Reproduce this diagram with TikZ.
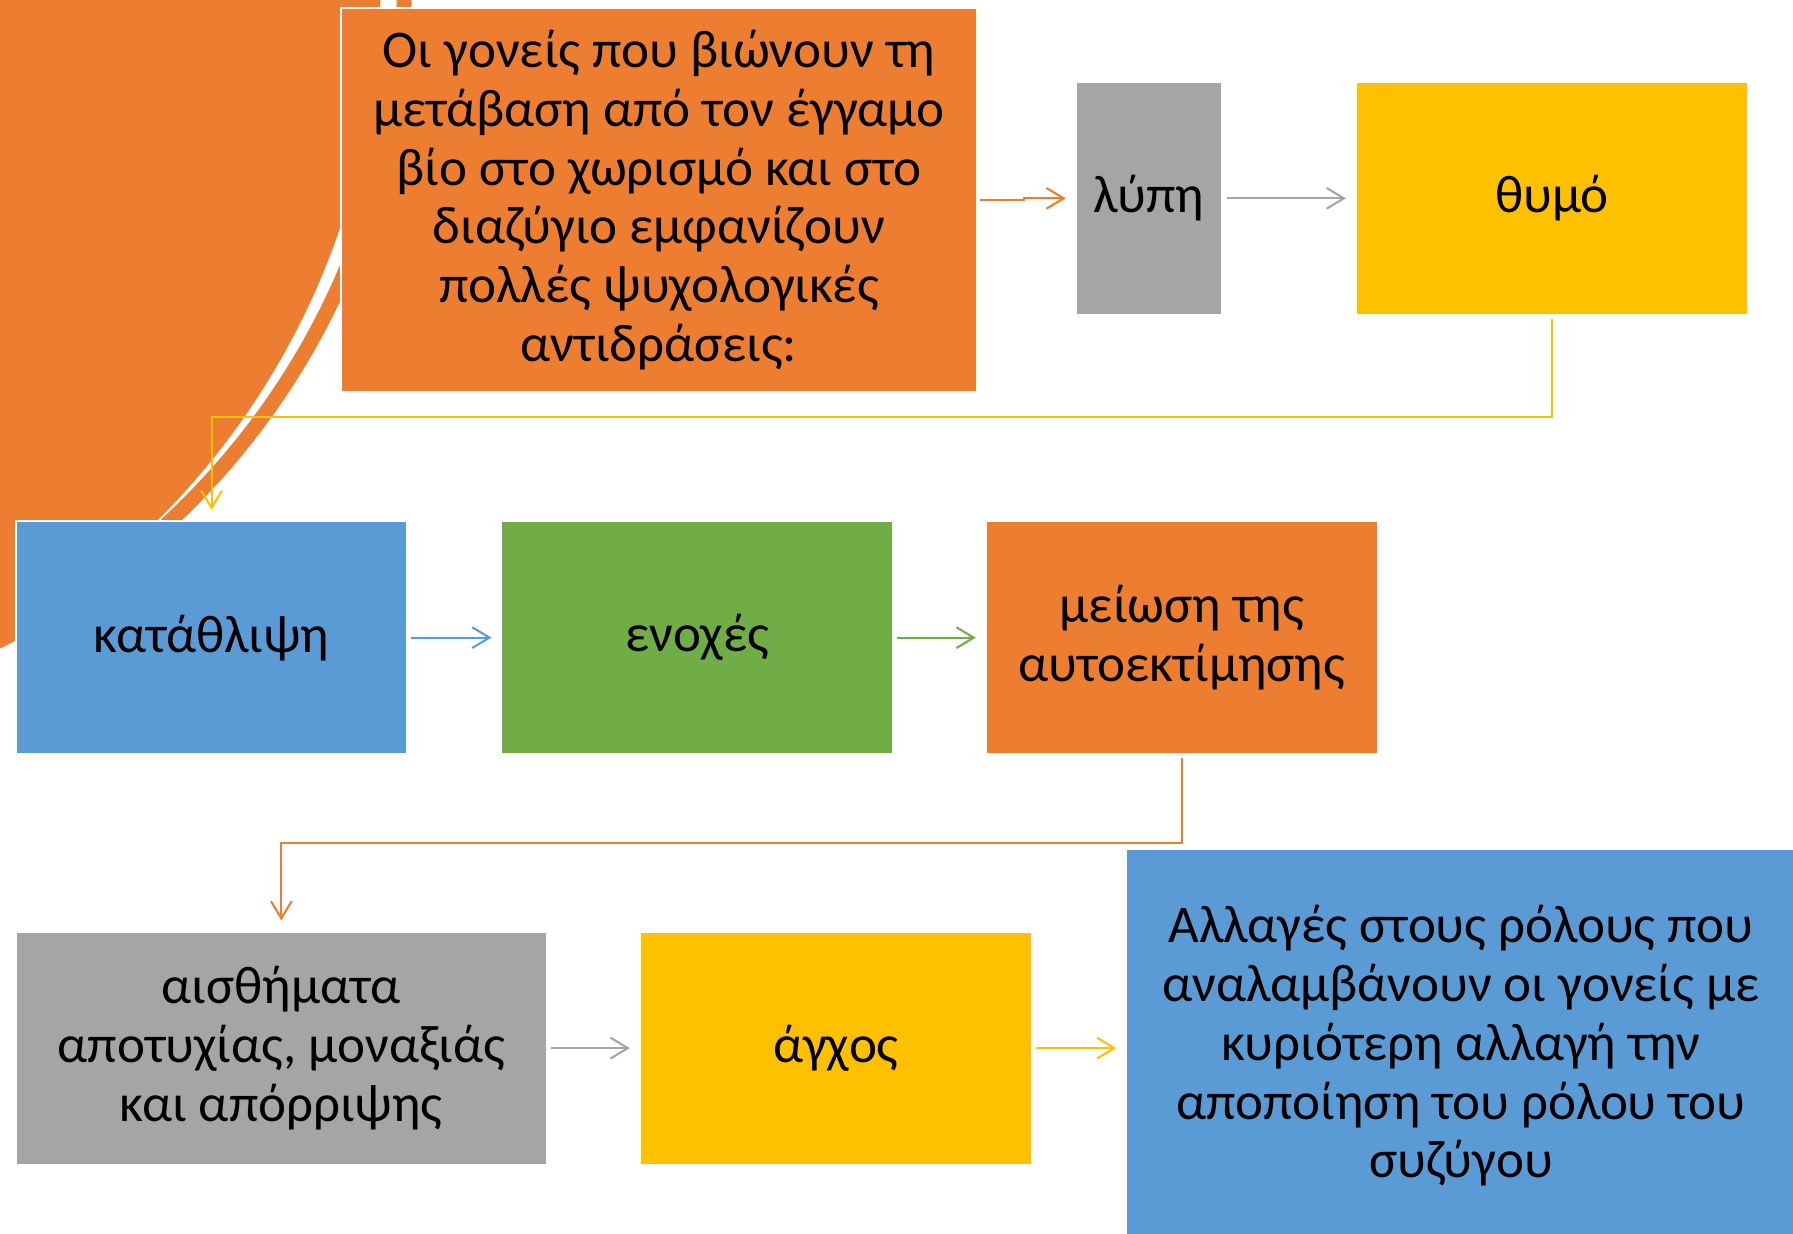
\documentclass[tikz,border=0pt]{standalone}
\usepackage{fontspec}
\setmainfont{Carlito}
\usetikzlibrary{arrows.meta}
\definecolor{corange}{HTML}{ED7D31}
\definecolor{cgray}{HTML}{A5A5A5}
\definecolor{cgold}{HTML}{FFC000}
\definecolor{cblue}{HTML}{5B9BD5}
\definecolor{cgreen}{HTML}{70AD47}
\begin{document}
\begin{tikzpicture}[x=1pt,y=-1pt,
  box/.style={draw=white, line width=1.5pt, inner sep=0pt, align=center,
    font=\fontsize{46}{51}\selectfont, text=black},
  conn/.style={line width=1.8pt, -{Straight Barb[length=15pt,width=18pt]}},
]
\useasboundingbox (0,0) rectangle (1555,1070.2);
% background decoration
\begin{scope}
\clip (0,0) rectangle (1555,1070.2);
\fill[corange] (-289.4,-15.9) circle[radius=646.6pt];
\fill[white] (-289.4,-15.9) circle[radius=633.6pt];
\fill[corange] (-329,-15) circle[radius=659pt];
\end{scope}
% boxes
\node[box, fill=corange, minimum width=551pt, minimum height=333pt] (top) at (571.5,173.5)
  {Οι γονείς που βιώνουν τη\\μετάβαση από τον έγγαμο\\βίο στο χωρισμό και στο\\διαζύγιο εμφανίζουν\\πολλές ψυχολογικές\\αντιδράσεις:};
\node[box, fill=cgray, minimum width=127pt, minimum height=202pt] (lupi) at (996.5,172) {λύπη};
\node[box, fill=cgold, minimum width=340pt, minimum height=202pt] (thymo) at (1346,172) {θυμό};
\node[box, fill=cblue, minimum width=339pt, minimum height=202pt] (kat) at (183.5,553) {κατάθλιψη};
\node[box, fill=cgreen, minimum width=339pt, minimum height=202pt] (enoxes) at (604.5,553) {ενοχές};
\node[box, fill=corange, minimum width=340pt, minimum height=202pt] (meiosi) at (1025,553) {μείωση της\\αυτοεκτίμησης};
\node[box, fill=cgray, minimum width=460pt, minimum height=202pt] (aisth) at (244,909) {αισθήματα\\αποτυχίας, μοναξιάς\\και απόρριψης};
\node[box, fill=cgold, minimum width=340pt, minimum height=202pt] (agxos) at (725,909) {άγχος};
\node[box, fill=cblue, minimum width=580pt, minimum height=342pt] (allages) at (1267,907)
  {Αλλαγές στους ρόλους που\\αναλαμβάνουν οι γονείς με\\κυριότερη αλλαγή την\\αποποίηση του ρόλου του\\συζύγου};
% connectors
\coordinate (r1) at (0,362);
\coordinate (r2) at (0,731);
\draw[conn, corange, shorten <=2pt, shorten >=8pt] (top.east) -- ++(40,0) |- (lupi.west);
\draw[conn, cgray, shorten <=3pt, shorten >=8pt] (lupi.east) -- (thymo.west);
\draw[conn, cgold, shorten <=3pt, shorten >=9pt] (thymo.south) -- (thymo.south |- r1) -| (kat.north);
\draw[conn, cblue, shorten <=3pt, shorten >=8pt] (kat.east) -- (enoxes.west);
\draw[conn, cgreen, shorten <=3pt, shorten >=8pt] (enoxes.east) -- (meiosi.west);
\draw[conn, corange, shorten <=3pt, shorten >=9pt] (meiosi.south) -- (meiosi.south |- r2) -| (aisth.north);
\draw[conn, cgray, shorten <=3pt, shorten >=8pt] (aisth.east) -- (agxos.west);
\draw[conn, cgold, shorten <=3pt, shorten >=8pt] (agxos.east) -- (agxos.east -| allages.west);
\end{tikzpicture}
\end{document}
